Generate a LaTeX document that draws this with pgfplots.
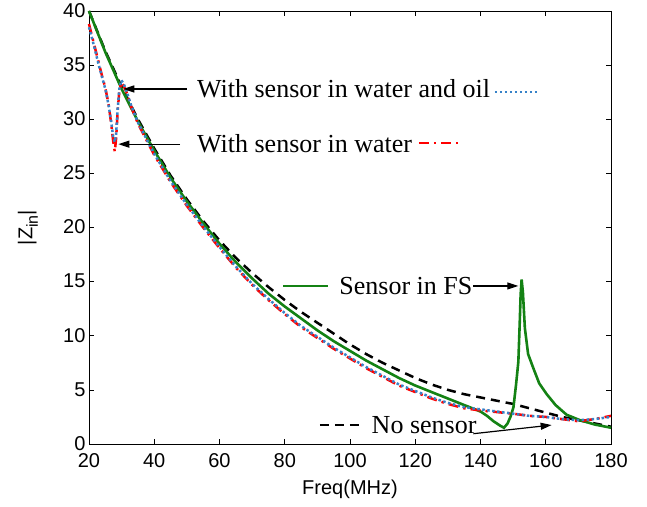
\documentclass[border=0pt]{standalone}
\usepackage{fontspec}
\setmainfont{Liberation Sans}
\newfontfamily\serif{Liberation Serif}
\usepackage{pgfplots}
\pgfplotsset{compat=1.18}
\usetikzlibrary{arrows.meta}

\definecolor{fsgreen}{RGB}{20,130,20}
\definecolor{oilblue}{RGB}{55,130,200}

\begin{document}
\begin{tikzpicture}
\begin{axis}[
	at={(89pt,62pt)}, anchor=south west,
	scale only axis,
	width=522pt, height=433pt,
	xmin=20, xmax=180, ymin=0, ymax=40,
	xtick={20,40,...,180},
	ytick={0,5,...,40},
	tick align=inside,
	major tick length=5pt,
	axis line style={line width=0.9pt},
	every tick/.style={black, line width=0.7pt},
	/pgf/number format/assume math mode=true,
	tick label style={font=\fontsize{20}{20}\selectfont},
	xticklabel style={yshift=-6pt},
	yticklabel style={yshift=0.5pt},
	label style={font=\fontsize{20}{24}\selectfont},
	xlabel={Freq(MHz)},
	xlabel style={yshift=-5pt},
	ylabel={|Z\raisebox{-0.28em}{\fontsize{16}{16}\selectfont in}|},
	ylabel style={at={(axis description cs:-0.117,0.5)}, anchor=center},
	clip=false,
]
% No sensor
\addplot [black, line width=2.5pt, dash pattern=on 9pt off 6pt] coordinates {
(20,40.0) (25,36.3) (30,33.0) (35,30.0) (40,27.3) (45,24.8) (50,22.6) (55,20.6)
(60,18.8) (65,17.2) (70,15.8) (75,14.5) (80,13.3) (85,12.2) (90,11.2) (95,10.2)
(100,9.2) (105,8.3) (110,7.5) (115,6.8) (120,6.1) (125,5.5) (130,5.0) (135,4.6)
(140,4.3) (145,4.0) (150,3.7) (155,3.3) (160,2.9) (165,2.5) (170,2.2) (175,1.9) (180,1.6)
};
% Sensor in FS
\addplot [fsgreen, line width=2.6pt] coordinates {
(20,40.0) (25,36.2) (30,32.8) (35,29.8) (40,27.1) (45,24.6) (50,22.4) (55,20.4)
(60,18.5) (65,16.8) (70,15.3) (75,13.9) (80,12.7) (85,11.6) (90,10.5) (95,9.5)
(100,8.6) (105,7.7) (110,6.9) (115,6.1) (120,5.4) (125,4.8) (130,4.2) (135,3.6)
(140,3.0) (142,2.6) (144,2.1) (146,1.7) (147.2,1.5) (148.3,1.9) (149.3,2.6) (150.1,3.4)
(150.9,5.5) (151.6,7.6) (152.0,11.0) (152.3,13.8) (152.6,15.2) (153.0,14.0) (153.6,10.7)
(154.6,8.3) (156.2,7.0) (158,5.6) (160.3,4.6) (163,3.6) (166.4,2.7) (170.5,2.2) (175,1.8) (180,1.5)
};
% With sensor in water
\addplot [red, line width=2.5pt, dash pattern=on 10pt off 5pt on 2.5pt off 5pt] coordinates {
(20,38.8) (21,37.6) (22,36.4) (23,35.2) (24,34.0) (25,32.9) (26,31.4) (26.8,29.6)
(27.4,28.0) (27.9,27.0) (28.3,28.2) (28.8,30.8) (29.3,32.6) (29.9,33.4) (30.6,33.1)
(31.5,32.5) (33,31.1) (35,29.6) (40,26.7) (45,24.2) (50,22.0) (55,20.0) (60,18.1)
(65,16.3) (70,14.7) (75,13.3) (80,12.0) (85,10.8) (90,9.8) (95,8.8) (100,7.9)
(105,7.0) (110,6.2) (115,5.4) (120,4.8) (125,4.2) (130,3.7) (135,3.3) (140,3.1)
(145,2.95) (150,2.8) (155,2.6) (160,2.5) (165,2.3) (170,2.1) (175,2.3) (180,2.6)
};
% With sensor in water and oil
\addplot [oilblue, line width=2.5pt, dash pattern=on 2.5pt off 2.5pt] coordinates {
(20,38.5) (21,37.4) (22,36.2) (23,35.0) (24,33.9) (25,32.8) (26,31.3) (26.8,29.8)
(27.4,28.4) (27.9,27.9) (28.3,28.6) (28.8,31.0) (29.3,32.8) (29.9,33.6) (30.6,33.3)
(31.5,32.6) (33,31.2) (35,29.7) (40,26.8) (45,24.3) (50,22.1) (55,20.1) (60,18.2)
(65,16.4) (70,14.8) (75,13.4) (80,12.1) (85,10.9) (90,9.9) (95,8.9) (100,8.0)
(105,7.1) (110,6.3) (115,5.5) (120,4.9) (125,4.3) (130,3.8) (135,3.4) (140,3.2)
(145,3.0) (150,2.8) (155,2.6) (160,2.5) (165,2.3) (170,2.2) (175,2.3) (180,2.5)
};
% legend-like sample segments
\addplot [forget plot, oilblue, line width=2.5pt, dash pattern=on 2.5pt off 2.5pt] coordinates {(144.4,32.5) (157.6,32.5)};
\addplot [forget plot, red, line width=2.5pt, dash pattern=on 10pt off 5pt on 2.5pt off 5pt] coordinates {(121.1,27.8) (133.1,27.8)};
\addplot [forget plot, fsgreen, line width=2.5pt] coordinates {(79.6,14.6) (93.4,14.6)};
\addplot [forget plot, black, line width=2.5pt, dash pattern=on 9pt off 6pt] coordinates {(90.8,1.75) (104.1,1.75)};

% annotations
\begin{scope}[every node/.style={font=\serif\fontsize{26}{26}\selectfont, inner sep=0pt, anchor=west}]
\node at (axis cs:53.1,32.8) {With sensor in water and oil};
\node at (axis cs:53.1,27.7) {With sensor in water};
\node at (axis cs:96.7,14.6) {Sensor in FS};
\node at (axis cs:106.6,1.7) {No sensor};
\end{scope}
\begin{scope}[line width=1.2pt, -{Triangle[length=11pt,width=7pt]}]
\draw (axis cs:49.9,32.8) -- (axis cs:30.5,32.8);
\draw (axis cs:47.9,27.7) -- (axis cs:29.0,27.7);
\draw (axis cs:137.8,14.6) -- (axis cs:151.6,14.6);
\draw (axis cs:137.8,0.95) -- (axis cs:161.8,1.75);
\end{scope}
\end{axis}
\pgfresetboundingbox
\path[use as bounding box] (0,0) rectangle (647pt,506pt);
\end{tikzpicture}
\end{document}
